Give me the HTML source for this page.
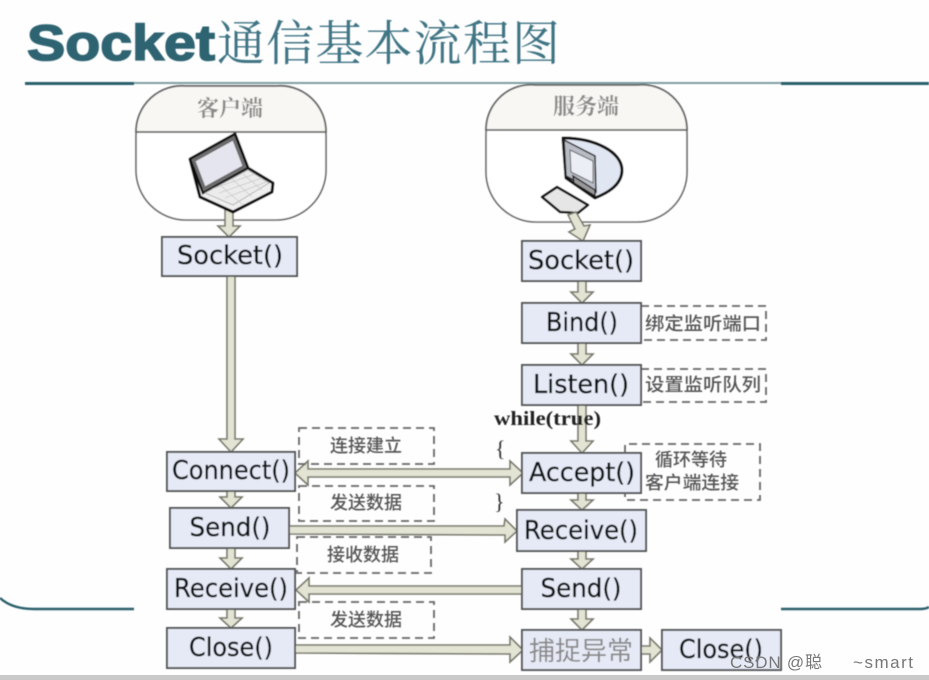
<!DOCTYPE html>
<html><head><meta charset="utf-8"><style>
html,body{margin:0;padding:0;background:#fefefe;width:929px;height:680px;overflow:hidden}
svg{display:block}
.b{fill:#e6eaf6;stroke:#55595a;stroke-width:2}
.t{font-family:"DejaVu Sans","Liberation Sans",sans-serif;font-size:26px;fill:#101418;stroke:#101418;stroke-width:.35;text-anchor:middle}
.d{fill:none;stroke:#666;stroke-width:1.8;stroke-dasharray:8 5}
.c{font-family:"Liberation Sans","Noto Sans CJK SC",sans-serif;font-size:18px;font-weight:500;fill:#555;text-anchor:middle}
.h{font-family:"Liberation Serif","Noto Serif CJK SC",serif;font-size:22px;font-weight:700;fill:#8a8a8a;text-anchor:middle}
.a{fill:#e3e4d3;stroke:#77786c;stroke-width:1.6;stroke-linejoin:miter}
</style></head><body>
<svg width="929" height="680" viewBox="0 0 929 680" xmlns="http://www.w3.org/2000/svg">
<defs><filter id="s" x="-5%" y="-5%" width="110%" height="110%"><feGaussianBlur stdDeviation="0.45"/></filter></defs>
<rect width="929" height="680" fill="#fefefe"/>
<g filter="url(#s)">
<text x="27" y="60" font-family="Liberation Sans,sans-serif" font-size="50" font-weight="700" fill="#2f6472" stroke="#2f6472" stroke-width="1.6" textLength="188" lengthAdjust="spacingAndGlyphs">Socket</text>
<text x="217" y="60" font-family="Liberation Serif,Noto Serif CJK SC,serif" font-size="48" fill="#3f7484" textLength="343" lengthAdjust="spacing">通信基本流程图</text>
<rect x="134" y="82" width="647" height="2" fill="#7f9ea3"/>
<rect x="25" y="82" width="109" height="3" fill="#2b5f6b"/>
<rect x="781" y="82" width="148" height="3" fill="#2b5f6b"/>
<path d="M0 598 Q12 609 34 609 L134 609" fill="none" stroke="#2b5f6b" stroke-width="2.4"/>
<path d="M781 609 L920 609 Q926 609 929 607" fill="none" stroke="#2b5f6b" stroke-width="2.4"/>

<rect x="136" y="86" width="190" height="134" rx="50" fill="#fff" stroke="#666" stroke-width="1.6"/>
<path d="M136 132 A46 46 0 0 1 186 86 H276 A46 46 0 0 1 326 132 Z" fill="#f8f7f3" stroke="#666" stroke-width="1.8"/>
<text class="h" x="230" y="116">客户端</text>
<rect x="486" y="85" width="201" height="137" rx="50" fill="#fff" stroke="#666" stroke-width="1.6"/>
<path d="M486 130 A45 45 0 0 1 536 85 H637 A45 45 0 0 1 687 130 Z" fill="#f8f7f3" stroke="#666" stroke-width="1.8"/>
<text class="h" x="586" y="114">服务端</text>

<path class="a" d="M225 208H233V226H240L229 237 218 226H225Z"/>
<path d="M190 159 235 134 248 168 273 183 272 192 233 212 200 197Z" fill="#efefef" stroke="#111" stroke-width="3" stroke-linejoin="round"/>
<path d="M190 159 235 134 248 168 203 193Z" fill="#6d6d6d" stroke="#111" stroke-width="2.4"/>
<path d="M195 161 233 140 243 166 205 187Z" fill="#e4e5ee" stroke="#666"/>
<path d="M205 193 248 170 269 183 233 205Z" fill="#ececec" stroke="#aaa" stroke-width=".8"/>
<path d="M212 189 255 174M219 193 262 178M225 198 266 182M220 185 243 205M232 179 252 197M243 174 262 190" stroke="#c9c9c9" stroke-width=".8" fill="none"/>

<path d="M563 138 C595 138 622 152 622 170 C622 186 605 194 595 198 L566 178Z" fill="#e0e6f2" stroke="#111" stroke-width="3" stroke-linejoin="round"/>
<path d="M564 140 L595 156 L596 192 L566 176Z" fill="#b8bcc4" stroke="#222" stroke-width="1.5"/>
<path d="M570 150 593 161 593 183 571 172Z" fill="#eceef6" stroke="#666"/>
<path d="M573 176 595 190 595 196 574 183Z" fill="#9a9a9a" stroke="#222" stroke-width="1.4"/>
<path d="M542 197 557 187 588 205 578 213 560 212Z" fill="#e6e6e6" stroke="#111" stroke-width="2.6" stroke-linejoin="round"/>
<path class="a" d="M568 215 576 212 584 226 590 225 583 241 569 232 575 229Z"/>

<path class="a" d="M227 276H235V439H243L231 452 219 439H227Z"/>
<path class="a" d="M227 491H235V497H242L231 508 220 497H227Z"/>
<path class="a" d="M227 548H235V558H242L231 569 220 558H227Z"/>
<path class="a" d="M227 609H235V618H242L231 628 220 618H227Z"/>
<path class="a" d="M578 281H586V292H593L582 303 571 292H578Z"/>
<path class="a" d="M578 343H586V354H593L582 365 571 354H578Z"/>
<path class="a" d="M578 402H586V441H593L582 453 571 441H578Z"/>
<path class="a" d="M578 493H586V500H593L582 510 571 500H578Z"/>
<path class="a" d="M578 551H586V559H593L582 569 571 559H578Z"/>
<path class="a" d="M578 609H586V619H593L582 630 571 619H578Z"/>

<path class="a" d="M295 473 308 461V469H510V461L523 473 510 485V477H308V485Z"/>
<path class="a" d="M289 526H504L505 519 517 531 505 542V535L289 534Z"/>
<path class="a" d="M522 586H309V578L296 590 309 602V594H522Z"/>
<path class="a" d="M295 645H510V637L523 650 510 662V654L295 653Z"/>
<path class="a" d="M641 646H650V638L662 650 650 662V654H641Z"/>

<rect class="d" x="299" y="428" width="135" height="36"/>
<rect class="d" x="299" y="486" width="135" height="35"/>
<rect class="d" x="297" y="537" width="134" height="36"/>
<rect class="d" x="299" y="602" width="135" height="36"/>
<rect class="d" x="641" y="306" width="125" height="34"/>
<rect class="d" x="641" y="369" width="125" height="33"/>

<text class="c" x="366" y="452">连接建立</text>
<text class="c" x="366" y="509">发送数据</text>
<text class="c" x="363" y="561">接收数据</text>
<text class="c" x="366" y="626">发送数据</text>
<text class="c" x="703" y="330" textLength="116" lengthAdjust="spacingAndGlyphs">绑定监听端口</text>
<text class="c" x="703" y="391" textLength="116" lengthAdjust="spacingAndGlyphs">设置监听队列</text>

<rect class="b" x="162" y="237" width="135" height="39"/>
<rect class="b" x="167" y="452" width="128" height="39"/>
<rect class="b" x="170" y="508" width="119" height="40"/>
<rect class="b" x="167" y="569" width="128" height="40"/>
<rect class="b" x="167" y="628" width="128" height="40"/>
<rect class="b" x="522" y="241" width="119" height="40"/>
<rect class="b" x="522" y="303" width="119" height="40"/>
<rect class="b" x="522" y="365" width="119" height="40"/>
<rect class="b" x="522" y="453" width="119" height="40"/>
<rect class="b" x="517" y="510" width="129" height="41"/>
<rect class="b" x="522" y="569" width="119" height="40"/>
<rect class="b" x="522" y="630" width="119" height="40"/>
<rect class="b" x="662" y="630" width="119" height="40"/>

<path d="M625 453V444H760V500H625V493" fill="none" stroke="#666" stroke-width="1.8" stroke-dasharray="8 5"/>
<text class="c" x="691" y="466">循环等待</text>
<text class="c" x="692" y="489" textLength="94" lengthAdjust="spacingAndGlyphs">客户端连接</text>

<text class="t" x="230" y="264" textLength="106" lengthAdjust="spacingAndGlyphs">Socket()</text>
<text class="t" x="231" y="479" textLength="118" lengthAdjust="spacingAndGlyphs">Connect()</text>
<text class="t" x="230" y="536" textLength="81" lengthAdjust="spacingAndGlyphs">Send()</text>
<text class="t" x="231" y="597" textLength="114" lengthAdjust="spacingAndGlyphs">Receive()</text>
<text class="t" x="231" y="656" textLength="84" lengthAdjust="spacingAndGlyphs">Close()</text>
<text class="t" x="581" y="269" textLength="106" lengthAdjust="spacingAndGlyphs">Socket()</text>
<text class="t" x="582" y="331" textLength="72" lengthAdjust="spacingAndGlyphs">Bind()</text>
<text class="t" x="581" y="393" textLength="96" lengthAdjust="spacingAndGlyphs">Listen()</text>
<text class="t" x="582" y="481" textLength="106" lengthAdjust="spacingAndGlyphs">Accept()</text>
<text class="t" x="581" y="539" textLength="114" lengthAdjust="spacingAndGlyphs">Receive()</text>
<text class="t" x="581" y="597" textLength="81" lengthAdjust="spacingAndGlyphs">Send()</text>
<text x="581" y="660" font-family="Liberation Sans,Noto Sans CJK SC,sans-serif" font-size="26" fill="#888" text-anchor="middle" textLength="104" lengthAdjust="spacing">捕捉异常</text>
<text class="t" x="721" y="658" textLength="84" lengthAdjust="spacingAndGlyphs">Close()</text>

<text x="494" y="425" font-family="Liberation Serif,serif" font-size="19.5" font-weight="700" fill="#222" textLength="107" lengthAdjust="spacingAndGlyphs">while(true)</text>
<text x="495" y="456" font-family="Liberation Serif,serif" font-size="22" fill="#333">{</text>
<text x="494" y="509" font-family="Liberation Serif,serif" font-size="22" fill="#333">}</text>
</g>
<text x="730" y="668" font-family="Liberation Sans,Noto Sans CJK SC,sans-serif" font-size="17" fill="#777" textLength="92">CSDN @聪</text>
<text x="853" y="668" font-family="Liberation Sans,sans-serif" font-size="17" fill="#777" textLength="60">~smart</text>
<rect x="0" y="675" width="929" height="5" fill="#c9c9c9"/>
</svg>
</body></html>
